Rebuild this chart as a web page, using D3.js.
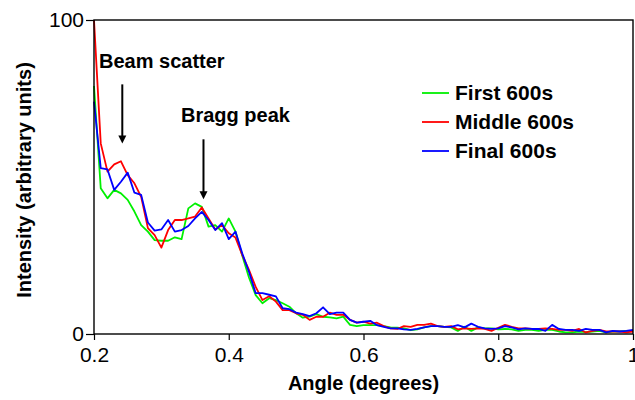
<!DOCTYPE html>
<html>
<head>
<meta charset="utf-8">
<script src="https://cdn.jsdelivr.net/npm/d3@7/dist/d3.min.js"></script>
<style>
  html, body { margin: 0; padding: 0; background: #fff; }
  svg text { font-family: "Liberation Sans", Arial, Helvetica, sans-serif; fill: #000; }
</style>
</head>
<body>
<div id="chart"></div>
<script>
// Scattering angle samples, 0.20 to 1.00 degrees in 0.01 steps
const angles = d3.range(81).map(i => +(0.2 + i * 0.01).toFixed(2));

// Intensity (arbitrary units) for each time window
const firstIntensity = [
  79, 46.4, 43.2, 45.9, 44.8, 42.7, 39, 34.7, 32.6, 29.9,
  29.7, 29.7, 30.8, 30.2, 40.0, 41.6, 40.5, 34.2, 34.7, 32.6,
  36.8, 32.6, 25, 18, 12.4, 9.8, 11.4, 10.8, 9.8, 8.7,
  6.6, 5.2, 5.5, 6.3, 5.5, 5.3, 5.0, 5.5, 2.9, 2.5,
  2.8, 2.8, 2.8, 2.5, 2.1, 2.0, 1.8, 1.2, 1.5, 2.1,
  2.5, 2.5, 2.3, 2.1, 1.0, 2.3, 1.0, 2.1, 1.8, 1.8,
  1.5, 1.6, 1.5, 1.0, 1.3, 1.3, 1.0, 1.3, 1.3, 0.8,
  0.5, 0.5, 0.8, 0.6, 0.8, 1.0, 0.5, 0.8, 0.8, 1.0,
  1.0
];
const middleIntensity = [
  100, 60.7, 51.7, 54, 55, 50.6, 48, 43.7, 33.7, 31.5,
  27.5, 33.1, 36.3, 36.3, 36.8, 37.4, 40.3, 36.8, 33.3, 34.7,
  32.1, 30.7, 25.2, 20.4, 15, 10.8, 12, 10.3, 7.6, 7.6,
  6.6, 6.1, 4.5, 5.5, 5.5, 6.8, 6.1, 6.1, 4.5, 3.6,
  3.9, 3.3, 3.6, 2.5, 1.8, 1.6, 2.5, 2.3, 2.9, 2.9,
  3.3, 2.5, 2.3, 2.5, 1.5, 1.8, 1.6, 1.8, 1.6, 1.0,
  2.0, 2.9, 2.3, 1.8, 1.8, 1.6, 1.6, 1.8, 1.6, 1.3,
  1.3, 1.0, 1.6, 0.5, 1.0, 1.3, 0.8, 0.8, 0.8, 0.5,
  0.8
];
const finalIntensity = [
  74, 52.8, 52.4, 45.9, 48.5, 51.4, 45, 44.3, 35.5, 32.9,
  33.3, 36.3, 32.6, 33.1, 34.4, 36.8, 38.9, 36.3, 33.1, 35.3,
  30.2, 32.6, 25.7, 19.8, 13, 13, 12.5, 12, 8.2, 7.9,
  6.8, 6.3, 5.7, 6.6, 8.5, 6.3, 6.8, 6.8, 4.5, 3.6,
  3.9, 4.2, 2.8, 2.3, 1.8, 1.8, 1.5, 1.3, 1.6, 2.1,
  2.5, 2.5, 2.3, 2.3, 2.8, 2.1, 3.3, 2.3, 1.8, 1.6,
  1.8, 2.5, 2.1, 1.5, 1.8, 1.6, 1.6, 1.0, 2.9, 1.6,
  1.3, 1.3, 1.0, 1.6, 1.3, 1.3, 0.5, 1.0, 0.8, 1.0,
  1.3
];

const seriesNames = ["First 600s", "Middle 600s", "Final 600s"];
const seriesColors = ["#00f000", "#ff0000", "#0000ff"];
const seriesValues = [firstIntensity, middleIntensity, finalIntensity];

const xTicks = [0.2, 0.4, 0.6, 0.8, 1];
const xTickLabels = ["0.2", "0.4", "0.6", "0.8", "1"];
const yTicks = [0, 100];
const yTickLabels = ["0", "100"];

// Annotated features: label, angle, arrow top and tip (intensity units)
const annotations = [
  { label: "Beam scatter", angle: 0.242, top: 79.5, tip: 60.7 },
  { label: "Bragg peak", angle: 0.3625, top: 62, tip: 42.9 }
];

const width = 635, height = 400;
const margin = { top: 20, right: 2, bottom: 66, left: 94 };

const svg = d3.select("#chart").append("svg")
  .attr("width", width).attr("height", height);

const x = d3.scaleLinear().domain([0.2, 1]).range([margin.left, width - margin.right]);
const y = d3.scaleLinear().domain([0, 100]).range([height - margin.bottom, margin.top]);

// Series lines
const line = d3.line().x(d => x(d[0])).y(d => y(d[1]));
seriesValues.forEach((vals, i) => {
  svg.append("path")
    .datum(angles.map((a, j) => [a, vals[j]]))
    .attr("fill", "none")
    .attr("stroke", seriesColors[i])
    .attr("stroke-width", 1.8)
    .attr("stroke-linejoin", "round")
    .attr("d", line);
});

// Plot frame
svg.append("rect")
  .attr("x", x(0.2)).attr("y", y(100))
  .attr("width", x(1) - x(0.2)).attr("height", y(0) - y(100))
  .attr("fill", "none").attr("stroke", "#000").attr("stroke-width", 1.4);

// Axes
const xAxis = d3.axisBottom(x).tickValues(xTicks)
  .tickFormat((d, i) => xTickLabels[i]).tickSize(6).tickPadding(7);
const gx = svg.append("g").attr("transform", `translate(0,${y(0)})`).call(xAxis);
gx.select(".domain").remove();
gx.selectAll("line").attr("stroke", "#000").attr("stroke-width", 1.2);
gx.selectAll("text").attr("font-size", 21).style("font-family", "'Liberation Sans', Arial, sans-serif");

const yAxis = d3.axisLeft(y).tickValues(yTicks)
  .tickFormat((d, i) => yTickLabels[i]).tickSize(8).tickPadding(2);
const gy = svg.append("g").attr("transform", `translate(${x(0.2)},0)`).call(yAxis);
gy.select(".domain").remove();
gy.selectAll("line").attr("stroke", "#000").attr("stroke-width", 1.2);
gy.selectAll("text").attr("font-size", 21).style("font-family", "'Liberation Sans', Arial, sans-serif");

// Axis titles
svg.append("text")
  .attr("x", (x(0.2) + x(1)) / 2).attr("y", 390)
  .attr("text-anchor", "middle")
  .attr("font-size", 20).attr("font-weight", "bold")
  .text("Angle (degrees)");

svg.append("text")
  .attr("transform", `translate(31,${(y(0) + y(100)) / 2 + 3}) rotate(-90)`)
  .attr("text-anchor", "middle")
  .attr("font-size", 20).attr("font-weight", "bold")
  .text("Intensity (arbitrary units)");

// Annotation labels and arrows
const labelPos = [{ x: 99, y: 68 }, { x: 181, y: 122 }];
annotations.forEach((a, i) => {
  svg.append("text")
    .attr("x", labelPos[i].x).attr("y", labelPos[i].y)
    .attr("font-size", 20).attr("font-weight", "bold")
    .text(a.label);
  const ax = x(a.angle);
  svg.append("line")
    .attr("x1", ax).attr("x2", ax)
    .attr("y1", y(a.top)).attr("y2", y(a.tip) - 7)
    .attr("stroke", "#000").attr("stroke-width", 2);
  svg.append("path")
    .attr("d", `M${ax - 4},${y(a.tip) - 8} L${ax + 4},${y(a.tip) - 8} L${ax},${y(a.tip)} Z`)
    .attr("fill", "#000");
});

// Legend
const legend = svg.append("g");
seriesNames.forEach((name, i) => {
  const ly = 93 + i * 29;
  legend.append("line")
    .attr("x1", 422).attr("x2", 449).attr("y1", ly).attr("y2", ly)
    .attr("stroke", seriesColors[i]).attr("stroke-width", 1.8);
  legend.append("text")
    .attr("x", 455).attr("y", ly + 7)
    .attr("font-size", 21).attr("font-weight", "bold")
    .text(name);
});
</script>
</body>
</html>
